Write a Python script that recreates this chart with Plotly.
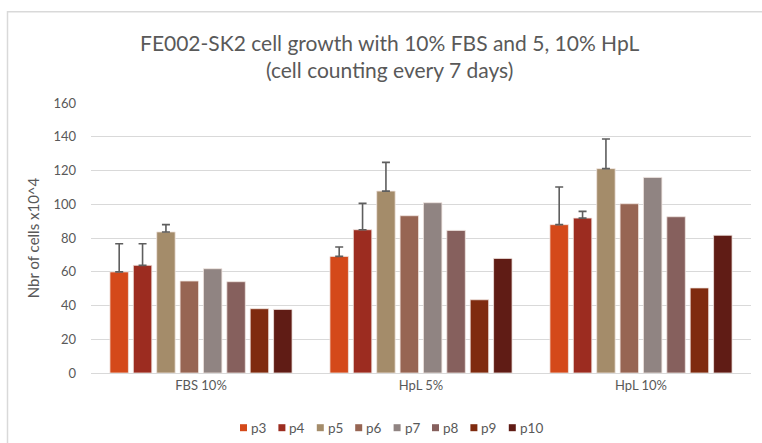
import plotly.graph_objects as go

categories = ["FBS 10%", "HpL 5%", "HpL 10%"]
series_names = ["p3", "p4", "p5", "p6", "p7", "p8", "p9", "p10"]
p3 = [59.9, 69.1, 87.9]
p4 = [63.8, 84.9, 91.8]
p5 = [83.6, 107.8, 121.1]
p6 = [54.5, 93.2, 100.3]
p7 = [61.8, 100.9, 115.9]
p8 = [54.1, 84.5, 92.6]
p9 = [38.1, 43.4, 50.4]
p10 = [37.7, 67.9, 81.6]
err_p3 = [16.7, 5.6, 22.3]
err_p4 = [12.8, 15.6, 4.0]
err_p5 = [4.3, 17.0, 17.6]
y_ticks = [0, 20, 40, 60, 80, 100, 120, 140, 160]

values = [p3, p4, p5, p6, p7, p8, p9, p10]
errors = [err_p3, err_p4, err_p5, None, None, None, None, None]
colors = ["#D4491A", "#9C2C20", "#A48C6A", "#976553", "#908482", "#86605D", "#7F2B0F", "#601C15"]

# the page's body margin is removed (see post_script), so window pixels == figure pixels
W, H = 762, 443
PX0, PX1, PY0, PY1 = 91, 751, 103.3, 373.3
L, R, T, B = PX0, W - PX1, PY0, H - PY1
pw, ph = PX1 - PX0, PY1 - PY0

def px_x(p):
    return (p - PX0) / pw

def px_y(p):
    return (PY1 - p) / ph

fig = go.Figure()
for name, vals, err, col in zip(series_names, values, errors, colors):
    kw = {}
    if err is not None:
        kw["error_y"] = dict(type="data", array=err, symmetric=False, arrayminus=[0]*len(err),
                             color="#5E5E5E", thickness=1.6, width=4)
    fig.add_trace(go.Bar(name=name, x=categories, y=vals, marker_color=col,
                         marker_line=dict(color="#F0E4E0", width=0.8), **kw))

bx, by_top, by_bot, bx_right = px_x(7.5), px_y(12), px_y(443 + 20), px_x(762 + 20)
shapes = [dict(type="path", xref="paper", yref="paper",
               path=f"M{bx},{by_bot} L{bx},{by_top} L{bx_right},{by_top}",
               line=dict(color="#D9D9D9", width=1.5), layer="below")]
annotations = [dict(text="FE002-SK2 cell growth with 10% FBS and 5, 10% HpL<br>(cell counting every 7 days)",
                    xref="paper", yref="paper", x=px_x(389), y=px_y(56), xanchor="center",
                    yanchor="middle", showarrow=False, align="center",
                    font=dict(size=21, color="#595959"))]

# legend row (bottom), laid out like the reference: small squares followed by names
leg_x0, leg_pitch, leg_y, sq = 240, 38.4, 428, 7
for i, (name, col) in enumerate(zip(series_names, colors)):
    x = leg_x0 + i * leg_pitch
    shapes.append(dict(type="rect", xref="paper", yref="paper",
                       x0=px_x(x), x1=px_x(x + sq), y0=px_y(leg_y + sq / 2), y1=px_y(leg_y - sq / 2),
                       fillcolor=col, line=dict(width=0)))
    annotations.append(dict(text=name, xref="paper", yref="paper", x=px_x(x + sq + 2), y=px_y(leg_y),
                            xanchor="left", yanchor="middle", showarrow=False,
                            font=dict(size=13.5, color="#595959")))

fig.update_layout(
    width=W, height=H,
    margin=dict(l=L, r=R, t=T, b=B, autoexpand=False),
    paper_bgcolor="white", plot_bgcolor="white",
    barmode="group", bargap=0.15, bargroupgap=0.21,
    font=dict(family="Lato, Open Sans, sans-serif", color="#595959", size=12),
    showlegend=False,
    xaxis=dict(showgrid=False, showline=True, linecolor="#D9D9D9", linewidth=1,
               ticks="", tickfont=dict(size=13, color="#595959")),
    yaxis=dict(range=[0, 160], tickvals=y_ticks, showgrid=True, gridcolor="#D9D9D9",
               gridwidth=1, zeroline=False, showline=False, ticks="",
               tickfont=dict(size=13, color="#595959"), ticklabelstandoff=14,
               title=dict(text="Nbr of cells x10^4", font=dict(size=15, color="#595959"), standoff=10)),
    shapes=shapes,
    annotations=annotations,
)

fig.write_html(
    "out.html",
    config={"displayModeBar": False},
    post_script=("document.body.style.margin='0';"
                 "document.body.style.overflow='hidden';"
                 "document.documentElement.style.overflow='hidden';"),
)
